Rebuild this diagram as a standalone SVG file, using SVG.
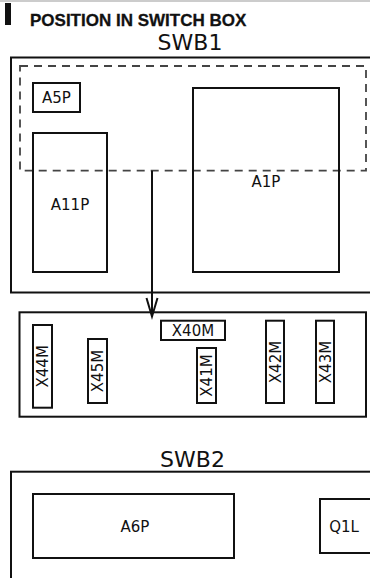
<svg xmlns="http://www.w3.org/2000/svg" width="370" height="578" viewBox="0 0 370 578">
<style>
.box{fill:none;stroke:#111;stroke-width:2}
.lbl{font-family:"DejaVu Sans",sans-serif;font-size:15px;fill:#111;text-anchor:middle}
.big{font-family:"DejaVu Sans",sans-serif;font-size:22px;fill:#111;text-anchor:middle}
.dash{fill:none;stroke:#444;stroke-width:1.8;stroke-dasharray:8 6}
.conn{fill:none;stroke:#111;stroke-width:2}
</style>
<rect x="0" y="0.5" width="370" height="1" fill="#999"/>
<rect x="5" y="3" width="6" height="22" fill="#111"/>
<text x="30" y="26" font-family="'Liberation Sans',Arial,sans-serif" font-size="17" font-weight="bold" fill="#111" stroke="#111" stroke-width="0.3">POSITION IN SWITCH BOX</text>

<g id="swb1">
<text class="big" x="190" y="50">SWB1</text>
<rect class="box" x="11" y="57.5" width="370" height="235"/>
</g>
<g id="dashed-zone">
<rect class="dash" x="20" y="66" width="346" height="104.7"/>
</g>
<g id="A5P">
<rect class="box" x="33" y="83" width="47" height="29"/>
<text class="lbl" x="56.5" y="103">A5P</text>
</g>
<g id="A11P">
<rect class="box" x="33" y="133" width="74" height="139"/>
<text class="lbl" x="70" y="210">A11P</text>
</g>
<g id="A1P">
<rect class="box" x="193" y="88" width="146" height="184"/>
<text class="lbl" x="266" y="187">A1P</text>
</g>

<g id="connectors">
<line class="conn" x1="152" y1="170.7" x2="152" y2="316"/>
<polyline class="conn" points="146.5,298 152,316.5 157.5,298"/>
</g>

<g id="terminal-board">
<rect class="box" x="19.5" y="312.3" width="346.5" height="104.4"/>
</g>
<g id="X44M">
<rect class="box" x="33" y="325" width="19" height="82.7"/>
<text class="lbl" transform="translate(48,366.3) rotate(-90)">X44M</text>
</g>
<g id="X45M">
<rect class="box" x="88" y="339" width="19" height="64"/>
<text class="lbl" transform="translate(103,371) rotate(-90)">X45M</text>
</g>
<g id="X40M">
<rect class="box" x="161" y="320.7" width="64" height="19.3"/>
<text class="lbl" x="193" y="335.5">X40M</text>
</g>
<g id="X41M">
<rect class="box" x="197" y="348" width="19" height="55"/>
<text class="lbl" transform="translate(212,375.5) rotate(-90)">X41M</text>
</g>
<g id="X42M">
<rect class="box" x="266" y="320.7" width="18" height="82.3"/>
<text class="lbl" transform="translate(280.5,362) rotate(-90)">X42M</text>
</g>
<g id="X43M">
<rect class="box" x="316" y="320.7" width="18" height="82.3"/>
<text class="lbl" transform="translate(330.5,362) rotate(-90)">X43M</text>
</g>

<g id="swb2">
<text class="big" x="192.5" y="466.7">SWB2</text>
<rect class="box" x="11" y="471.7" width="370" height="120"/>
</g>
<g id="A6P">
<rect class="box" x="33" y="494" width="201" height="64"/>
<text class="lbl" x="135" y="532">A6P</text>
</g>
<g id="Q1L">
<rect class="box" x="320" y="499" width="60" height="54"/>
<text class="lbl" x="344" y="532">Q1L</text>
</g>
</svg>
